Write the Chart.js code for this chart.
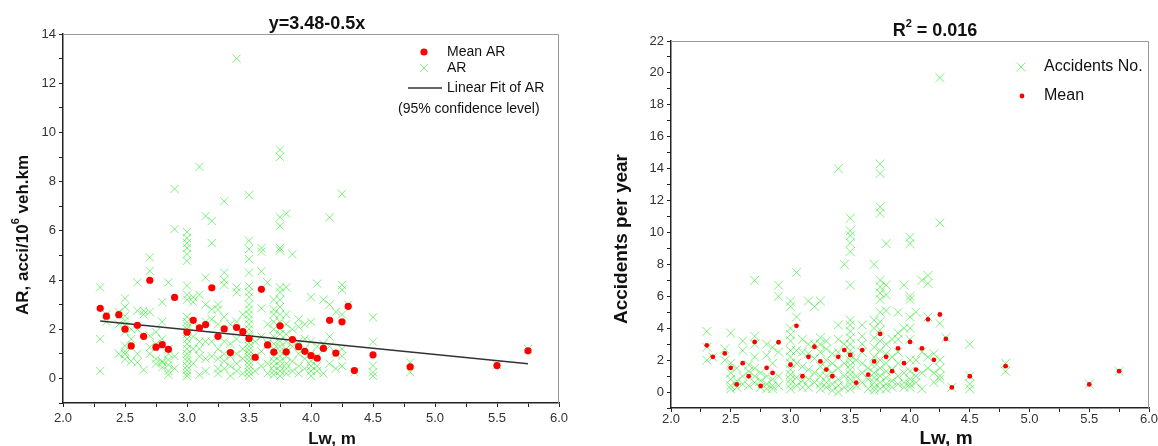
<!DOCTYPE html>
<html>
<head>
<meta charset="utf-8">
<script src="https://cdn.jsdelivr.net/npm/chart.js@4.4.1/dist/chart.umd.min.js"></script>
<style>
body { margin: 0; background: #fff; }
#wrap { position: relative; width: 1158px; height: 446px; overflow: hidden; }
canvas { position: absolute; top: 0; }
</style>
</head>
<body>
<div id="wrap">
<canvas id="arChart" width="580" height="446" style="left:0"></canvas>
<canvas id="accChart" width="578" height="446" style="left:580px"></canvas>
</div>
<script>
/* ---- data: left panel (AR vs lane width) ---- */
const lwCols = [2.3, 2.35, 2.45, 2.5, 2.55, 2.6, 2.65, 2.7, 2.75, 2.8, 2.85, 2.9, 3.0, 3.05, 3.1, 3.15, 3.2, 3.25, 3.3, 3.35, 3.4, 3.45, 3.5, 3.55, 3.6, 3.65, 3.7, 3.75, 3.8, 3.85, 3.9, 3.95, 4.0, 4.05, 4.1, 4.15, 4.2, 4.25, 4.3, 4.35, 4.5, 4.8, 5.5, 5.75];
const arByLw = [
    [3.7, 1.6, 0.3],
    [2.6, 2.3],
    [2.7, 2.2, 1.0],
    [3.25, 2.9, 2.55, 2.35, 2.15, 1.9, 1.33, 1.1, 0.99, 0.78],
    [2.0, 1.6, 0.7],
    [3.9, 2.75, 2.0, 1.0, 0.65],
    [2.75, 2.6, 0.35],
    [4.92, 4.37, 2.7, 1.73, 1.27, 1.0],
    [1.88, 1.4, 0.8, 0.6],
    [3.1, 2.3, 1.6, 0.7, 0.65, 0.45],
    [3.9, 1.2, 1.0, 0.75, 0.55, 0.3, 0.15],
    [7.7, 6.07, 0.9, 0.4],
    [5.95, 5.7, 5.5, 5.3, 5.05, 4.78, 3.77, 3.4, 3.2, 2.5, 2.3, 2.15, 2.0, 1.8, 1.6, 1.4, 1.2, 1.0, 0.85, 0.7, 0.5, 0.35, 0.2, 0.1],
    [3.3, 3.1, 2.3, 1.7, 1.2, 0.6],
    [8.6, 3.4, 1.5, 1.2, 0.9, 0.15],
    [6.6, 4.1, 3.0, 2.3, 1.5, 0.8, 0.3],
    [6.4, 5.5, 2.8, 2.4, 1.5, 0.9],
    [3.0, 2.8, 2.2, 1.2, 0.8, 0.4, 0.2],
    [7.2, 4.3, 4.0, 3.8, 2.5, 1.5, 1.0, 0.7, 0.4],
    [2.2, 1.4, 0.9, 0.5, 0.1],
    [13.0, 3.7, 3.5, 2.3, 1.6, 1.0, 0.6, 0.3],
    [2.6, 1.2, 0.8, 0.2],
    [7.45, 5.6, 5.26, 4.85, 4.3, 3.76, 3.5, 3.3, 3.0, 2.8, 2.6, 2.4, 2.2, 2.0, 1.8, 1.7, 1.6, 1.45, 1.3, 1.15, 1.0, 0.85, 0.7, 0.55, 0.4, 0.25, 0.1],
    [1.5, 0.9, 0.3],
    [5.3, 5.15, 4.35, 2.85, 1.7, 1.1, 0.5],
    [3.9, 2.2, 1.4, 0.6, 0.2],
    [3.2, 2.8, 2.6, 2.3, 2.0, 1.7, 1.4, 1.2, 0.9, 0.7, 0.5, 0.3, 0.15],
    [9.3, 9.0, 6.55, 6.2, 5.3, 5.2, 3.7, 3.5, 3.2, 2.9, 2.6, 2.3, 2.0, 1.8, 1.5, 1.3, 1.1, 0.9, 0.7, 0.5, 0.3, 0.1],
    [6.7, 3.7, 2.6, 2.2, 1.8, 1.5, 1.2, 0.9, 0.6, 0.4, 0.2],
    [5.05, 2.0, 1.3, 0.7, 0.3],
    [2.4, 2.1, 1.5, 1.0, 0.5, 0.2],
    [2.2, 1.6, 1.2, 0.8, 0.4],
    [3.3, 2.3, 1.5, 1.0, 0.7, 0.5, 0.3, 0.1],
    [3.85, 1.3, 0.9, 0.5, 0.3],
    [3.2, 1.4, 0.2],
    [6.55, 3.0, 1.7, 1.3, 0.6],
    [2.7, 1.0, 0.4],
    [7.5, 3.8, 3.6, 2.6, 1.2, 0.9, 0.5],
    [3.0],
    [0.25],
    [2.48, 1.49, 0.52, 0.25, 0.1],
    [0.65, 0.25],
    [0.55],
    [1.2]
];
const meanAR = [2.85, 2.53, 2.59, 2.0, 1.32, 2.16, 1.71, 3.99, 1.27, 1.37, 1.18, 3.29, 1.88, 2.36, 2.05, 2.19, 3.68, 1.71, 2.01, 1.05, 2.07, 1.9, 1.62, 0.86, 3.62, 1.36, 1.07, 2.14, 1.08, 1.58, 1.29, 1.1, 0.93, 0.82, 1.22, 2.36, 1.03, 2.3, 2.93, 0.32, 0.96, 0.47, 0.52, 1.12];
const fitLw = [2.3, 5.75];
const fitAR = [2.33, 0.6];

/* ---- data: right panel (accidents per year) ---- */
const accByLw = [
    [3.8, 2.8, 2.0],
    [2.2],
    [2.7, 2.0],
    [3.7, 1.8, 1.2, 0.8, 0.4, 0.2],
    [1.5, 0.7, 0.3],
    [3.2, 2.6, 1.0, 0.5],
    [1.7, 1.3, 0.4],
    [7.0, 3.5, 3.0, 2.2, 1.5, 1.0, 0.6],
    [1.2, 0.7, 0.3],
    [3.0, 2.3, 1.0, 0.5, 0.2],
    [2.8, 1.8, 0.8, 0.4, 0.2],
    [6.7, 6.0, 2.5, 1.0, 0.4],
    [5.7, 5.35, 4.0, 3.6, 3.2, 2.6, 2.2, 1.8, 1.4, 1.1, 0.8, 0.5, 0.2],
    [7.5, 4.7, 2.6, 1.8, 0.9, 0.4],
    [3.3, 2.5, 1.6, 0.7, 0.3],
    [5.7, 3.0, 2.4, 1.4, 0.8, 0.3],
    [5.35, 3.0, 2.1, 1.2, 0.6],
    [5.7, 3.4, 3.0, 2.5, 1.6, 1.0, 0.5, 0.2],
    [3.2, 2.7, 2.0, 1.5, 1.0, 0.6, 0.3],
    [2.4, 1.8, 1.2, 0.5, 0.1],
    [14.0, 4.2, 3.3, 2.5, 1.5, 0.8, 0.4, 0.0],
    [8.0, 3.0, 1.8, 1.0, 0.3],
    [10.9, 10.1, 9.8, 9.35, 8.8, 6.7, 4.5, 4.2, 3.8, 3.4, 3.0, 2.6, 2.3, 2.0, 1.7, 1.4, 1.1, 0.8, 0.5, 0.2],
    [2.0, 1.0, 0.4],
    [4.2, 3.5, 3.0, 2.5, 1.8, 1.2, 0.6],
    [1.5, 0.8, 0.2],
    [8.0, 4.5, 4.0, 3.4, 2.8, 2.2, 1.6, 1.2, 0.9, 0.6, 0.3, 0.1],
    [14.3, 13.7, 11.6, 11.2, 7.0, 6.6, 6.2, 5.8, 5.0, 4.4, 3.9, 3.2, 2.6, 2.0, 1.5, 1.0, 0.6, 0.2],
    [9.3, 6.7, 6.1, 5.1, 3.0, 2.4, 1.8, 1.3, 0.9, 0.5, 0.2],
    [3.3, 2.2, 1.4, 0.7, 0.3],
    [5.0, 3.7, 3.3, 2.5, 1.8, 1.0, 0.5],
    [6.7, 4.0, 1.2, 0.6, 0.3],
    [9.7, 9.3, 6.0, 5.8, 4.7, 4.0, 3.3, 2.0, 1.3, 0.8, 0.5, 0.3],
    [5.0, 2.0, 1.0, 0.6],
    [7.0, 2.5, 1.2, 0.2],
    [7.3, 6.8, 4.7, 2.2, 1.5],
    [2.4, 1.2, 0.6],
    [19.7, 10.6, 4.3, 2.0, 1.5, 1.0, 0.8],
    [3.4],
    [0.3],
    [3.0, 1.0, 0.5, 0.2],
    [1.8, 1.3],
    [0.5],
    [1.3]
];
const meanAcc = [2.93, 2.21, 2.42, 1.52, 0.48, 1.81, 0.99, 3.14, 0.38, 1.52, 1.2, 3.12, 1.71, 4.15, 0.99, 2.21, 2.84, 1.92, 1.41, 0.99, 2.21, 2.63, 2.32, 0.59, 2.63, 1.09, 1.92, 3.64, 2.21, 1.31, 2.74, 1.81, 3.14, 1.41, 2.74, 4.55, 2.02, 4.86, 3.33, 0.29, 0.99, 1.62, 0.48, 1.31];

const FONT = '"Liberation Sans", Arial, sans-serif';
const GREEN = "rgba(0, 230, 0, 0.5)";
const RED = "#ff0000";

function columnsToPoints(xs, cols) {
    const pts = [];
    xs.forEach((x, i) => cols[i].forEach(y => pts.push({ x, y })));
    return pts;
}
function pairPoints(xs, ys) {
    return xs.map((x, i) => ({ x, y: ys[i] }));
}

/* draw text made of runs (for superscripts), optionally rotated */
function drawRuns(ctx, parts, x, y, align, rotate) {
    ctx.save();
    ctx.translate(x, y);
    if (rotate) ctx.rotate(-Math.PI / 2);
    ctx.textBaseline = "middle";
    ctx.textAlign = "left";
    ctx.fillStyle = "#111";
    let total = 0;
    for (const p of parts) {
        ctx.font = (p.bold ? "bold " : "") + p.size + "px " + FONT;
        total += ctx.measureText(p.t).width;
    }
    let cx = align === "center" ? -total / 2 : 0;
    for (const p of parts) {
        ctx.font = (p.bold ? "bold " : "") + p.size + "px " + FONT;
        ctx.fillText(p.t, cx, p.dy || 0);
        cx += ctx.measureText(p.t).width;
    }
    ctx.restore();
}
function drawCross(ctx, x, y, r) {
    ctx.save();
    ctx.strokeStyle = GREEN;
    ctx.lineWidth = 1;
    const d = r * Math.SQRT1_2;
    ctx.beginPath();
    ctx.moveTo(x - d, y - d); ctx.lineTo(x + d, y + d);
    ctx.moveTo(x - d, y + d); ctx.lineTo(x + d, y - d);
    ctx.stroke();
    ctx.restore();
}
function drawDot(ctx, x, y, r) {
    ctx.save();
    ctx.fillStyle = RED;
    ctx.beginPath();
    ctx.arc(x, y, r, 0, Math.PI * 2);
    ctx.fill();
    ctx.restore();
}

/* grey top/right frame of the plot box */
const framePlugin = {
    id: "frame",
    afterDraw(chart) {
        const { ctx, chartArea: a } = chart;
        ctx.save();
        ctx.strokeStyle = "#999";
        ctx.lineWidth = 1;
        ctx.beginPath();
        ctx.moveTo(a.left, a.top + 0.5);
        ctx.lineTo(a.right - 0.5, a.top + 0.5);
        ctx.lineTo(a.right - 0.5, a.bottom);
        ctx.stroke();
        ctx.restore();
    }
};

function axisOptions(xMin, xMax, yMin, yMax, yWidth, xHeight, xPad) {
    const tickFont = { family: FONT, size: 13 };
    return {
        x: {
            type: "linear", min: xMin, max: xMax,
            afterFit(s) { s.height = xHeight; s.paddingLeft = 0; s.paddingRight = 0; },
            ticks: {
                stepSize: 0.25, autoSkip: false, maxRotation: 0, font: tickFont, color: "#333", padding: xPad,
                callback: v => (Math.abs(v * 2 - Math.round(v * 2)) < 1e-6 ? v.toFixed(1) : "")
            },
            grid: { drawOnChartArea: false, tickLength: 4, tickColor: "#222" },
            border: { color: "#222", width: 1.5 }
        },
        y: {
            type: "linear", min: yMin, max: yMax,
            afterFit(s) { s.width = yWidth; },
            ticks: {
                stepSize: 1, autoSkip: false, font: tickFont, color: "#333", padding: 3,
                callback: v => (v >= 0 && v % 2 === 0 ? String(v) : "")
            },
            grid: { drawOnChartArea: false, tickLength: 4, tickColor: "#222" },
            border: { color: "#222", width: 1.5 }
        }
    };
}

/* ---- left chart ---- */
new Chart(document.getElementById("arChart"), {
    type: "scatter",
    data: {
        datasets: [
            { label: "Mean AR", data: pairPoints(lwCols, meanAR), order: 0,
              pointStyle: "circle", pointRadius: 3.6, backgroundColor: RED, borderColor: RED, borderWidth: 0 },
            { label: "Linear Fit of AR", data: pairPoints(fitLw, fitAR), order: 1, showLine: true,
              pointRadius: 0, borderColor: "#333", borderWidth: 1.5 },
            { label: "AR", data: columnsToPoints(lwCols, arByLw), order: 2,
              pointStyle: "crossRot", pointRadius: 5.8, borderColor: GREEN, borderWidth: 1 }
        ]
    },
    options: {
        responsive: false, animation: false, devicePixelRatio: 1,
        layout: { padding: { top: 34, right: 21, left: 0, bottom: 0 } },
        plugins: { legend: { display: false }, tooltip: { enabled: false } },
        scales: axisOptions(2, 6, -1, 14, 63, 43, 4)
    },
    plugins: [framePlugin, {
        id: "arText",
        afterDraw(chart) {
            const ctx = chart.ctx;
            drawRuns(ctx, [{ t: "y=3.48-0.5x", size: 18, bold: true }], 317, 24, "center");
            drawRuns(ctx, [{ t: "AR, acci/10", size: 17, bold: true },
                           { t: "6", size: 11, bold: true, dy: -7 },
                           { t: " veh.km", size: 17, bold: true }], 23, 235, "center", true);
            drawRuns(ctx, [{ t: "Lw, m", size: 17, bold: true }], 332, 439, "center");
            // legend
            drawDot(ctx, 424, 52, 3.6);
            drawRuns(ctx, [{ t: "Mean AR", size: 14 }], 447, 52, "left");
            drawCross(ctx, 424, 68, 5.8);
            drawRuns(ctx, [{ t: "AR", size: 14 }], 447, 68, "left");
            ctx.save();
            ctx.strokeStyle = "#333"; ctx.lineWidth = 1.5;
            ctx.beginPath(); ctx.moveTo(408, 88); ctx.lineTo(442, 88); ctx.stroke();
            ctx.restore();
            drawRuns(ctx, [{ t: "Linear Fit of AR", size: 14 }], 447, 88, "left");
            drawRuns(ctx, [{ t: "(95% confidence level)", size: 14 }], 398, 109, "left");
        }
    }]
});

/* ---- right chart ---- */
new Chart(document.getElementById("accChart"), {
    type: "scatter",
    data: {
        datasets: [
            { label: "Mean", data: pairPoints(lwCols, meanAcc), order: 0,
              pointStyle: "circle", pointRadius: 2.4, backgroundColor: RED, borderColor: RED, borderWidth: 0 },
            { label: "Accidents No.", data: columnsToPoints(lwCols, accByLw), order: 1,
              pointStyle: "crossRot", pointRadius: 6.3, borderColor: GREEN, borderWidth: 1 }
        ]
    },
    options: {
        responsive: false, animation: false, devicePixelRatio: 1,
        layout: { padding: { top: 41, right: 9, left: 0, bottom: 0 } },
        plugins: { legend: { display: false }, tooltip: { enabled: false } },
        scales: axisOptions(2, 6, -1, 22, 91, 38, 0)
    },
    plugins: [framePlugin, {
        id: "accText",
        afterDraw(chart) {
            const ctx = chart.ctx;
            drawRuns(ctx, [{ t: "R", size: 18, bold: true },
                           { t: "2", size: 11, bold: true, dy: -7 },
                           { t: " = 0.016", size: 18, bold: true }], 355, 31, "center");
            drawRuns(ctx, [{ t: "Accidents per year", size: 19, bold: true }], 42, 239, "center", true);
            drawRuns(ctx, [{ t: "Lw, m", size: 19, bold: true }], 366, 439, "center");
            // legend
            drawCross(ctx, 441, 67, 6.3);
            drawRuns(ctx, [{ t: "Accidents No.", size: 16 }], 464, 67, "left");
            drawDot(ctx, 442, 96, 2.4);
            drawRuns(ctx, [{ t: "Mean", size: 16 }], 464, 96, "left");
        }
    }]
});
</script>
</body>
</html>
